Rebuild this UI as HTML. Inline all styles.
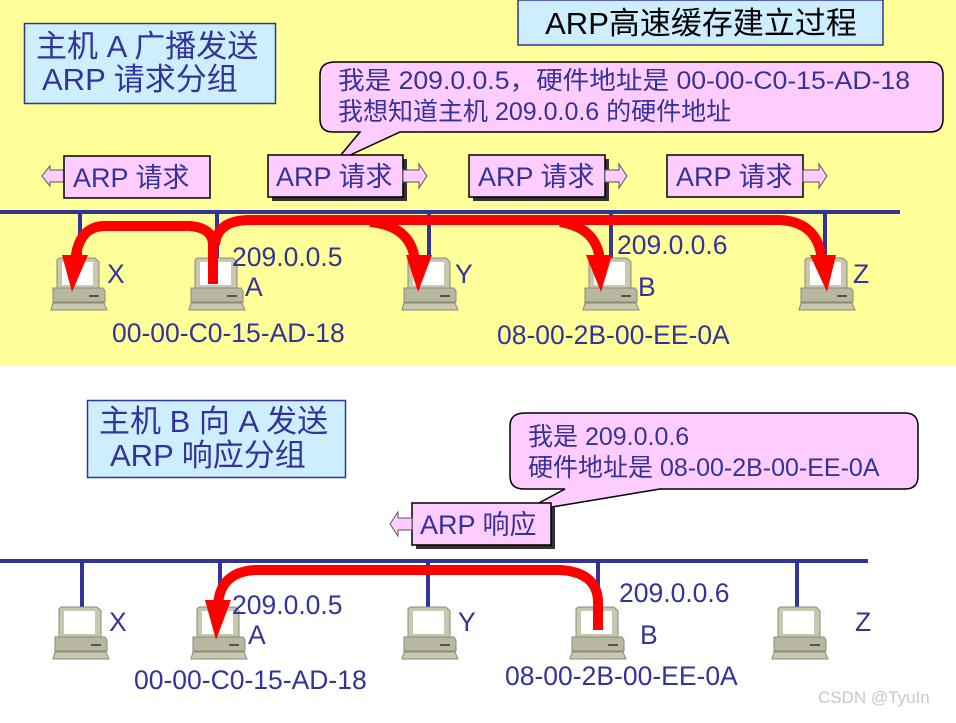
<!DOCTYPE html>
<html><head><meta charset="utf-8"><style>
body{margin:0;width:956px;height:718px;overflow:hidden;background:#fff}
svg text{font-family:"Liberation Sans","Noto Sans CJK SC",sans-serif;fill:#333399}
</style></head><body>
<svg width="956" height="718" viewBox="0 0 956 718" xmlns="http://www.w3.org/2000/svg">
<defs>
<symbol id="pc" viewBox="0 0 52 54" width="52" height="54" overflow="visible">
<path d="M2,0 H38 L42,4 V30 H0 V2 Z" fill="#C8C8B0" stroke="#8a8a78" stroke-width="1"/>
<rect x="5" y="4" width="31" height="23" fill="#fff"/>
<path d="M-4,30 H46 L48,33 V44 H-4 Z" fill="#B8B8A0" stroke="#8a8a78" stroke-width="1"/>
<rect x="32" y="37" width="10" height="2" fill="#555"/>
<path d="M-4,45 H47 L50,52 H-6 Z" fill="#C8C8B0" stroke="#8a8a78" stroke-width="1"/>
</symbol>
</defs>
<rect x="0" y="0" width="956" height="366" fill="#FFFF99"/>
<!-- title -->
<rect x="518" y="0" width="365" height="45" fill="#CCEEFF" stroke="#333399" stroke-width="1.5"/>
<text x="701" y="34" font-size="31" text-anchor="middle" style="fill:#000">ARP高速缓存建立过程</text>
<!-- left box top -->
<rect x="24.5" y="23.5" width="251" height="80" fill="#CCEEFF" stroke="#333399" stroke-width="1.5"/>
<text x="36" y="57" font-size="31">主机 A 广播发送</text>
<text x="42" y="90" font-size="31">ARP 请求分组</text>
<!-- bubble top -->
<path d="M335,62 H930 Q943,62 943,75 V119 Q943,132 930,132 H400 L335,162 L360,132 H333 Q320,132 320,119 V75 Q320,62 335,62 Z" fill="#FFCCFF" stroke="#000" stroke-width="1.5"/>
<text x="338" y="89" font-size="25" textLength="572" lengthAdjust="spacingAndGlyphs">我是 209.0.0.5，硬件地址是 00-00-C0-15-AD-18</text>
<text x="338" y="120" font-size="25">我想知道主机 209.0.0.6 的硬件地址</text>
<!-- ARP request boxes -->
<path d="M64,170 H50 V166 L42,176 L50,186 V182 H64 Z" fill="#FFCCFF" stroke="#555" stroke-width="1"/>
<rect x="64" y="156" width="146" height="42" fill="#FFCCFF" stroke="#000" stroke-width="1.5"/>
<text x="73" y="187" font-size="27">ARP 请求</text>

<rect x="272" y="159" width="135" height="42" fill="#333"/>
<rect x="268" y="155" width="135" height="42" fill="#FFCCFF" stroke="#000" stroke-width="1.5"/>
<text x="276" y="186" font-size="27">ARP 请求</text>
<path d="M403,170 H419 V164 L427,176 L419,188 V182 H403 Z" fill="#FFCCFF" stroke="#555" stroke-width="1"/>

<rect x="473" y="159" width="136" height="42" fill="#333"/>
<rect x="469" y="155" width="136" height="42" fill="#FFCCFF" stroke="#000" stroke-width="1.5"/>
<text x="478" y="186" font-size="27">ARP 请求</text>
<path d="M605,170 H619 V164 L627,176 L619,188 V182 H605 Z" fill="#FFCCFF" stroke="#555" stroke-width="1"/>

<rect x="667" y="155" width="136" height="42" fill="#FFCCFF" stroke="#000" stroke-width="1.5"/>
<text x="676" y="186" font-size="27">ARP 请求</text>
<path d="M803,170 H819 V164 L827,176 L819,188 V182 H803 Z" fill="#FFCCFF" stroke="#555" stroke-width="1"/>
<!-- bus top -->
<rect x="0" y="210" width="900" height="4" fill="#333399"/>
<g fill="#333399">
<rect x="78" y="212" width="4" height="46"/><rect x="215" y="212" width="4" height="46"/>
<rect x="427" y="212" width="4" height="46"/><rect x="609" y="212" width="4" height="46"/>
<rect x="823" y="212" width="4" height="46"/></g>
<use href="#pc" x="57" y="258"/><use href="#pc" x="195" y="258"/><use href="#pc" x="408" y="258"/>
<use href="#pc" x="589" y="258"/><use href="#pc" x="805" y="258"/>
<!-- red arrows top -->
<g fill="none" stroke="#FF0000" stroke-width="10">
<path d="M213,284 V245 Q213,228 190,226 H105 Q78,226 75,262"/>
<path d="M215,245 Q217,220 250,220 H780 Q818,222 822,260"/>
<path d="M370,222 Q412,226 415,262"/>
<path d="M560,222 Q598,228 600,262"/>
</g>
<g fill="#FF0000">
<path d="M62,255 H88 L72,292 Z"/><path d="M406,255 H432 L418,292 Z"/>
<path d="M586,255 H612 L601,292 Z"/><path d="M810,255 H836 L827,292 Z"/>
</g>
<g font-size="26.5">
<text x="107" y="283">X</text><text x="232" y="266">209.0.0.5</text><text x="245" y="296">A</text>
<text x="455" y="283">Y</text><text x="617" y="254">209.0.0.6</text><text x="638" y="296">B</text>
<text x="853" y="283">Z</text>
<text x="112" y="342">00-00-C0-15-AD-18</text><text x="497" y="344">08-00-2B-00-EE-0A</text>
</g>
<!-- bottom -->
<rect x="87.5" y="400.5" width="258" height="77" fill="#CCEEFF" stroke="#333399" stroke-width="1.5"/>
<text x="99" y="432" font-size="31">主机 B 向 A 发送</text>
<text x="110" y="466" font-size="31">ARP 响应分组</text>
<path d="M525,413 H905 Q918,413 918,426 V476 Q918,489 905,489 H660 L522,512 L565,489 H524 Q510,489 510,476 V426 Q510,413 525,413 Z" fill="#FFCCFF" stroke="#000" stroke-width="1.5"/>
<text x="528" y="445" font-size="25">我是 209.0.0.6</text>
<text x="528" y="476" font-size="25">硬件地址是 08-00-2B-00-EE-0A</text>
<rect x="416" y="507" width="139" height="42" fill="#333"/>
<rect x="412" y="503" width="139" height="42" fill="#FFCCFF" stroke="#000" stroke-width="1.5"/>
<text x="420" y="534" font-size="27">ARP 响应</text>
<path d="M412,518 H398 V512 L390,524 L398,536 V530 H412 Z" fill="#FFCCFF" stroke="#555" stroke-width="1"/>
<rect x="0" y="559" width="868" height="4" fill="#333399"/>
<g fill="#333399">
<rect x="80" y="561" width="4" height="46"/><rect x="218" y="561" width="4" height="46"/>
<rect x="426" y="561" width="4" height="46"/><rect x="596" y="561" width="4" height="46"/>
<rect x="795" y="561" width="4" height="46"/></g>
<use href="#pc" x="59" y="607"/><use href="#pc" x="197" y="607"/><use href="#pc" x="408" y="607"/>
<use href="#pc" x="576" y="607"/><use href="#pc" x="778" y="607"/>
<path d="M598,630 V600 Q596,572 560,570 H255 Q220,572 218,605" fill="none" stroke="#FF0000" stroke-width="10"/>
<path d="M205,600 H231 L216,640 Z" fill="#FF0000"/>
<g font-size="26.5">
<text x="109" y="631">X</text><text x="232" y="614">209.0.0.5</text><text x="248" y="644">A</text>
<text x="458" y="631">Y</text><text x="619" y="602">209.0.0.6</text><text x="640" y="644">B</text>
<text x="855" y="631">Z</text>
<text x="134" y="689">00-00-C0-15-AD-18</text><text x="505" y="685">08-00-2B-00-EE-0A</text>
</g>
<text x="818" y="703" font-size="17" style="fill:#c8c8c8">CSDN @TyuIn</text>
</svg>
</body></html>
